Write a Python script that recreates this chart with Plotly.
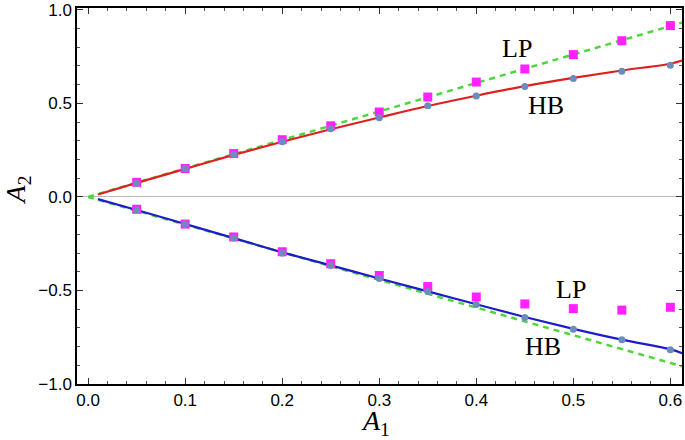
import plotly.graph_objects as go

# Sample points (A1)
a1_pts = [0.05, 0.10, 0.15, 0.20, 0.25, 0.30, 0.35, 0.40, 0.45, 0.50, 0.55, 0.60]

# Upper branch
hb_up_pts = [0.073, 0.152, 0.227, 0.295, 0.364, 0.423, 0.487, 0.540, 0.591, 0.633, 0.672, 0.704]
lp_up_pts = [0.078, 0.152, 0.232, 0.306, 0.380, 0.454, 0.534, 0.614, 0.684, 0.761, 0.835, 0.916]

# Lower branch
hb_lo_pts = [-0.070, -0.145, -0.220, -0.300, -0.367, -0.436, -0.505, -0.575, -0.645, -0.707, -0.764, -0.817]
lp_lo_pts = [-0.066, -0.145, -0.214, -0.293, -0.357, -0.420, -0.479, -0.535, -0.572, -0.597, -0.605, -0.590]

# Continuous curves
curve_x = [0.01, 0.05, 0.10, 0.15, 0.20, 0.25, 0.30, 0.35, 0.40, 0.45, 0.50, 0.55, 0.60, 0.612]
hb_up_curve = [0.013, 0.075, 0.150, 0.225, 0.295, 0.362, 0.425, 0.486, 0.541, 0.592, 0.636, 0.676, 0.712, 0.729]
hb_lo_curve = [-0.012, -0.070, -0.145, -0.220, -0.296, -0.366, -0.436, -0.505, -0.574, -0.642, -0.705, -0.763, -0.815, -0.835]

lp_line_x = [0.0, 0.612]
lp_up_line = [0.0, 0.932]
lp_lo_line = [0.0, -0.905]

# Curve labels
label_text = ["LP", "HB", "LP", "HB"]
label_x = [0.442, 0.472, 0.498, 0.469]
label_y = [0.794, 0.487, -0.495, -0.802]

fig = go.Figure()

green = "#4CD83C"
fig.add_trace(go.Scatter(x=lp_line_x, y=lp_up_line, mode="lines",
                         line=dict(color=green, width=2.5, dash="6px,5px")))
fig.add_trace(go.Scatter(x=lp_line_x, y=lp_lo_line, mode="lines",
                         line=dict(color=green, width=2.5, dash="6px,5px")))
fig.add_trace(go.Scatter(x=curve_x, y=hb_up_curve, mode="lines", line_shape="spline",
                         line=dict(color="#DD2020", width=2.2)))
fig.add_trace(go.Scatter(x=curve_x, y=hb_lo_curve, mode="lines", line_shape="spline",
                         line=dict(color="#1C1CC8", width=2.2)))
fig.add_trace(go.Scatter(x=a1_pts, y=lp_up_pts, mode="markers",
                         marker=dict(symbol="square", size=9, color="#FF22FF")))
fig.add_trace(go.Scatter(x=a1_pts, y=lp_lo_pts, mode="markers",
                         marker=dict(symbol="square", size=9, color="#FF22FF")))
fig.add_trace(go.Scatter(x=a1_pts, y=hb_up_pts, mode="markers",
                         marker=dict(symbol="circle", size=7, color="#6C8CBE")))
fig.add_trace(go.Scatter(x=a1_pts, y=hb_lo_pts, mode="markers",
                         marker=dict(symbol="circle", size=7, color="#6C8CBE")))

serif = "Liberation Serif"
for txt, x, y in zip(label_text, label_x, label_y):
    fig.add_annotation(x=x, y=y, text=txt, showarrow=False,
                       font=dict(family=serif, size=26, color="black"))

# Axis titles as annotations for precise placement
fig.add_annotation(xref="paper", yref="paper", x=0.494, y=-0.103, text="<i>A</i><sub>1</sub>",
                   showarrow=False, xanchor="center", yanchor="middle",
                   font=dict(family=serif, size=28, color="black"))
fig.add_annotation(xref="paper", yref="paper", x=-0.099, y=0.515, text="<i>A</i><sub>2</sub>",
                   showarrow=False, xanchor="center", yanchor="middle", textangle=-90,
                   font=dict(family=serif, size=28, color="black"))

axis_common = dict(showline=True, linecolor="black", linewidth=1.5, mirror="allticks",
                   ticks="inside", ticklen=6, tickcolor="#333333", showgrid=False,
                   ticklabeloverflow="allow",
                   tickfont=dict(family="Liberation Sans", size=17, color="black"))

fig.update_xaxes(range=[-0.0115, 0.612], dtick=0.1, tickformat=".1f", zeroline=False,
                 minor=dict(ticks="inside", ticklen=3, dtick=0.02, tickcolor="#555555", showgrid=False),
                 **axis_common)
fig.update_yaxes(range=[-1.0, 1.01], dtick=0.5, tickformat=".1f", zeroline=True,
                 zerolinecolor="#BBBBBB", zerolinewidth=1,
                 minor=dict(ticks="inside", ticklen=3, dtick=0.1, tickcolor="#555555", showgrid=False),
                 **axis_common)

fig.update_layout(width=685, height=440, margin=dict(l=77, r=1, t=7, b=56),
                  plot_bgcolor="white", paper_bgcolor="white", showlegend=False)

fig.write_html("out.html", config={"displayModeBar": False},
               post_script="document.body.style.margin='0';document.body.style.overflow='hidden';")
